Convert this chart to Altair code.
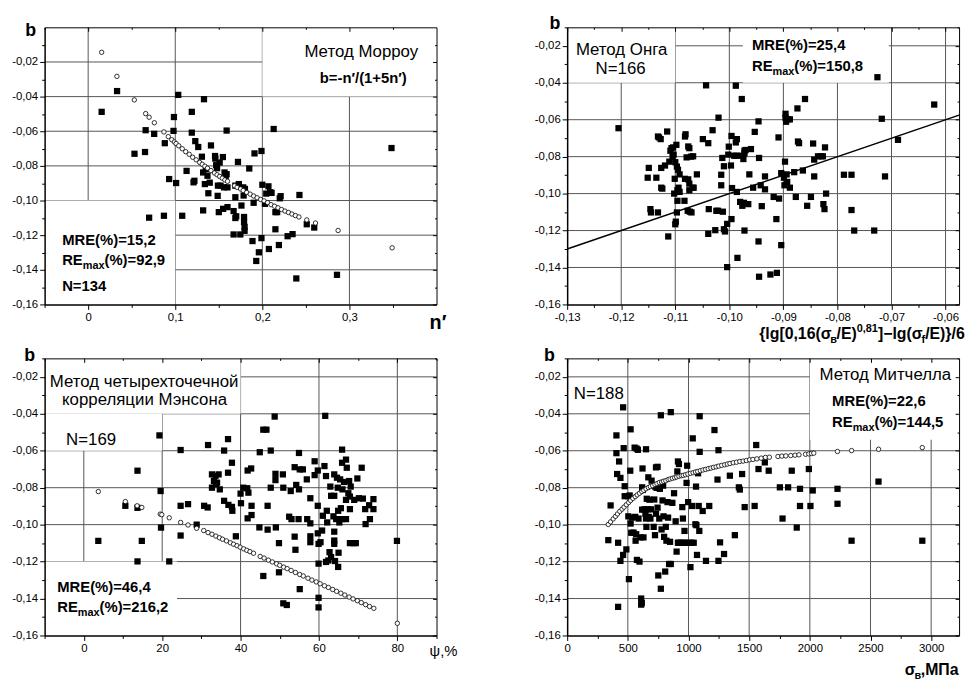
import altair as alt
import pandas as pd

FONT = "Liberation Sans"
W, H = 396, 280
GRID = "#555555"

# ---------------- Panel 1: Morrow ----------------
p1_sq_x = [0.0155, 0.0332, 0.0532, 0.0653, 0.066, 0.0758, 0.070, 0.087, 0.088, 0.093,
           0.098, 0.0985, 0.101, 0.1034, 0.108, 0.113, 0.119, 0.119, 0.121, 0.122,
           0.123, 0.1264, 0.1306, 0.132, 0.132, 0.133, 0.134, 0.135, 0.137, 0.138,
           0.1396, 0.141, 0.1457, 0.146, 0.147, 0.148, 0.1487, 0.149, 0.150, 0.151,
           0.152, 0.1547, 0.155, 0.156, 0.1566, 0.158, 0.159, 0.159, 0.160, 0.160,
           0.167, 0.167, 0.169, 0.169, 0.169, 0.170, 0.172, 0.173, 0.1747, 0.176,
           0.178, 0.1785, 0.179, 0.179, 0.1796, 0.1796, 0.180, 0.185, 0.1887, 0.190,
           0.191, 0.193, 0.196, 0.199, 0.199, 0.200, 0.203, 0.2045, 0.207, 0.2075,
           0.209, 0.2106, 0.213, 0.215, 0.215, 0.217, 0.219, 0.220, 0.221, 0.229,
           0.2347, 0.239, 0.2426, 0.251, 0.2596, 0.2857, 0.3483]
p1_sq_y = [-0.0488, -0.0368, -0.0730, -0.0720, -0.0594, -0.0615, -0.1099, -0.1088, -0.0669, -0.0876,
           -0.0598, -0.0518, -0.0899, -0.0390, -0.1088, -0.0829, -0.0488, -0.0608, -0.0895, -0.0886,
           -0.0657, -0.0691, -0.0747, -0.1057, -0.0838, -0.0415, -0.0905, -0.0819, -0.0857, -0.0958,
           -0.0897, -0.0682, -0.0743, -0.0758, -0.0796, -0.0813, -0.0973, -0.0914, -0.1067, -0.0781,
           -0.0914, -0.0749, -0.1048, -0.0924, -0.0838, -0.0857, -0.0848, -0.0596, -0.1038, -0.0924,
           -0.1061, -0.1196, -0.0914, -0.0981, -0.1101, -0.1091, -0.0777, -0.0905, -0.1196, -0.1029,
           -0.0924, -0.0971, -0.1095, -0.1124, -0.1152, -0.1175, -0.0933, -0.0815, -0.1234, -0.1013,
           -0.0728, -0.1349, -0.1299, -0.1217, -0.0714, -0.0909, -0.1019, -0.0960, -0.0918, -0.1280,
           -0.0952, -0.0956, -0.0587, -0.1067, -0.1166, -0.1067, -0.1257, -0.0987, -0.0975, -0.1206,
           -0.1194, -0.1450, -0.0968, -0.1137, -0.1156, -0.1429, -0.0697]
p1_ci_x = [0.0155, 0.033, 0.053, 0.066, 0.070, 0.076, 0.087, 0.092, 0.096, 0.099,
           0.101, 0.104, 0.108, 0.112, 0.116, 0.120, 0.124, 0.128, 0.131, 0.134,
           0.137, 0.141, 0.145, 0.148, 0.151, 0.154, 0.157, 0.160, 0.168, 0.171,
           0.175, 0.178, 0.182, 0.186, 0.190, 0.194, 0.198, 0.202, 0.206, 0.210,
           0.214, 0.218, 0.222, 0.226, 0.230, 0.234, 0.238, 0.242, 0.251, 0.261,
           0.287, 0.349]
p1_ci_y = [-0.0144, -0.0283, -0.0419, -0.0498, -0.0519, -0.0551, -0.0604, -0.0631, -0.0649, -0.0662,
           -0.0671, -0.0684, -0.0701, -0.0718, -0.0733, -0.0750, -0.0765, -0.0780, -0.0791, -0.0802,
           -0.0813, -0.0827, -0.0841, -0.0851, -0.0861, -0.0871, -0.0881, -0.0889, -0.0915, -0.0924,
           -0.0933, -0.0942, -0.0953, -0.0963, -0.0974, -0.0984, -0.0994, -0.1002, -0.1012, -0.1024,
           -0.1033, -0.1042, -0.1052, -0.1061, -0.1069, -0.1078, -0.1087, -0.1095, -0.1112, -0.1130,
           -0.1173, -0.1273]

# ---------------- Panel 2: Ong ----------------
p2_sq_x = [-0.1205, -0.1149, -0.1151, -0.1146, -0.1145, -0.1135, -0.1132, -0.1132, -0.1130, -0.1127,
           -0.1126, -0.1126, -0.1124, -0.1119, -0.1115, -0.1113, -0.1111, -0.1109, -0.1107, -0.1105,
           -0.1104, -0.1103, -0.1102, -0.1101, -0.1100, -0.1100, -0.1099, -0.1098, -0.1097, -0.1097,
           -0.1096, -0.1096, -0.1095, -0.1094, -0.1092, -0.1092, -0.1083, -0.1082, -0.1082, -0.1081,
           -0.1079, -0.1077, -0.1076, -0.1076, -0.1074, -0.1074, -0.1074, -0.1073, -0.1071, -0.1070,
           -0.1068, -0.1067, -0.1066, -0.1060, -0.1049, -0.1043, -0.1039, -0.1038, -0.1039, -0.1031,
           -0.1026, -0.1024, -0.1020, -0.1021, -0.1015, -0.1015, -0.1013, -0.1012, -0.1010, -0.1010,
           -0.1008, -0.1004, -0.1004, -0.1002, -0.1001, -0.0997, -0.0996, -0.0996, -0.0995, -0.0991,
           -0.0988, -0.0988, -0.0987, -0.0986, -0.0986, -0.0985, -0.0980, -0.0978, -0.0977, -0.0976,
           -0.0974, -0.0973, -0.0972, -0.0972, -0.0972, -0.0970, -0.0965, -0.0963, -0.0960, -0.0956,
           -0.0953, -0.0946, -0.0946, -0.0945, -0.0945, -0.0942, -0.0940, -0.0934, -0.0934, -0.0924,
           -0.0918, -0.0913, -0.0912, -0.0909, -0.0908, -0.0904, -0.0904, -0.0899, -0.0898, -0.0897,
           -0.0896, -0.0896, -0.0895, -0.0894, -0.0893, -0.0891, -0.0888, -0.0888, -0.0880, -0.0877,
           -0.0874, -0.0873, -0.0871, -0.0864, -0.0860, -0.0856, -0.0849, -0.0845, -0.0843, -0.0843,
           -0.0836, -0.0830, -0.0827, -0.0826, -0.0824, -0.0823, -0.0821, -0.0788, -0.0774, -0.0774,
           -0.0769, -0.0732, -0.0726, -0.0718, -0.0712, -0.0688, -0.0621]
p2_sq_y = [-0.0646, -0.0861, -0.0914, -0.1084, -0.1102, -0.0914, -0.1102, -0.0691, -0.0696, -0.0705,
           -0.0861, -0.0968, -0.0973, -0.0848, -0.0664, -0.1232, -0.0827, -0.0768, -0.0754, -0.0800,
           -0.0750, -0.0789, -0.1000, -0.0920, -0.0830, -0.1166, -0.1152, -0.0736, -0.0854, -0.1102,
           -0.1039, -0.0982, -0.0871, -0.0968, -0.0896, -0.0991, -0.1039, -0.0691, -0.0920, -0.0679,
           -0.0804, -0.1093, -0.0745, -0.0923, -0.0754, -0.0946, -0.0982, -0.1098, -0.0800, -0.1102,
           -0.0968, -0.0798, -0.0968, -0.0896, -0.0705, -0.0414, -0.0727, -0.1084, -0.1218, -0.0657,
           -0.1198, -0.1093, -0.0589, -0.1093, -0.0898, -0.0955, -0.0807, -0.1098, -0.0852, -0.1193,
           -0.1205, -0.1164, -0.1398, -0.0789, -0.0746, -0.0848, -0.0688, -0.1138, -0.0970, -0.0795,
           -0.0416, -0.0723, -0.0795, -0.0705, -0.0991, -0.1348, -0.1045, -0.0795, -0.0488, -0.1066,
           -0.0813, -0.1050, -0.1200, -0.0768, -0.0782, -0.0764, -0.1057, -0.0896, -0.0759, -0.0968,
           -0.0666, -0.0609, -0.1259, -0.0807, -0.1450, -0.0955, -0.1068, -0.0907, -0.0977, -0.1438,
           -0.1018, -0.1138, -0.1429, -0.0696, -0.1027, -0.1279, -0.0889, -0.0914, -0.0955, -0.0827,
           -0.0568, -0.0589, -0.0611, -0.0896, -0.0937, -0.0598, -0.0598, -0.0968, -0.0884, -0.1018,
           -0.0539, -0.0718, -0.0727, -0.0875, -0.0488, -0.1066, -0.1018, -0.0729, -0.0907, -0.0816,
           -0.0798, -0.0798, -0.0798, -0.1057, -0.1084, -0.0750, -0.1000, -0.0898, -0.0898, -0.1089,
           -0.1200, -0.1200, -0.0370, -0.0595, -0.0907, -0.0709, -0.0518]
p2_line_x = [-0.13, -0.0575]
p2_line_y = [-0.13, -0.0575]

# ---------------- Panel 3: Manson ----------------
p3_sq_x = [3.7, 10.6, 13.7, 13.7, 13.7, 14.8, 19.3, 19.6, 19.7, 21.8,
           24.7, 24.7, 24.7, 26.6, 28.8, 30.7, 31.6, 31.7, 32.7, 32.7,
           33.2, 33.6, 33.7, 34.0, 34.4, 34.7, 35.8, 35.8, 36.8, 36.8,
           36.9, 37.8, 37.8, 37.9, 38.8, 40.0, 40.1, 40.7, 41.7, 41.8,
           41.8, 42.0, 42.7, 42.8, 42.8, 44.9, 44.8, 45.8, 45.8, 46.6,
           46.9, 46.9, 47.7, 47.7, 48.7, 48.9, 48.9, 49.0, 49.8, 49.8,
           50.8, 50.9, 50.9, 51.8, 52.4, 52.8, 53.0, 53.8, 53.8, 54.0,
           54.2, 54.8, 54.9, 54.9, 55.1, 55.1, 55.9, 56.9, 57.0, 57.8,
           57.8, 57.8, 57.8, 58.9, 58.9, 59.7, 59.7, 59.7, 59.9, 59.9,
           59.9, 59.9, 60.4, 60.8, 61.0, 61.4, 61.6, 61.8, 61.8, 62.0,
           62.1, 62.4, 62.7, 62.9, 63.1, 63.1, 63.7, 63.9, 63.9, 63.9,
           63.9, 63.9, 64.1, 64.4, 64.6, 64.8, 64.9, 64.9, 65.0, 65.2,
           65.4, 65.6, 65.9, 65.9, 65.9, 66.0, 66.4, 66.9, 66.9, 66.9,
           67.1, 67.5, 67.7, 67.9, 67.9, 67.9, 68.1, 68.8, 69.0, 69.4,
           69.8, 70.2, 70.9, 71.2, 71.8, 71.9, 72.8, 73.0, 73.9, 73.9,
           79.9]
p3_sq_y = [-0.1088, -0.0898, -0.0708, -0.0909, -0.1199, -0.1088, -0.0517, -0.0818, -0.1016, -0.1199,
           -0.0596, -0.0898, -0.1059, -0.0889, -0.1000, -0.0898, -0.0907, -0.0569, -0.0728, -0.0800,
           -0.0764, -0.0737, -0.0782, -0.0773, -0.0728, -0.0809, -0.0599, -0.0871, -0.0537, -0.0719,
           -0.0893, -0.0665, -0.0904, -0.0925, -0.1063, -0.0832, -0.0884, -0.0800, -0.0803, -0.0707,
           -0.0966, -0.0827, -0.0696, -0.0898, -0.0948, -0.0608, -0.1015, -0.1278, -0.0486, -0.0486,
           -0.0898, -0.1027, -0.0599, -0.0800, -0.0415, -0.0725, -0.0759, -0.1015, -0.1100, -0.1258,
           -0.0728, -0.0800, -0.1426, -0.1435, -0.0957, -0.0818, -0.0970, -0.0689, -0.1065, -0.1136,
           -0.0785, -0.0970, -0.0612, -0.0809, -0.0701, -0.1349, -0.0701, -0.0755, -0.0970, -0.0857,
           -0.0993, -0.1063, -0.1095, -0.0657, -0.0732, -0.0707, -0.0898, -0.1047, -0.1104, -0.1211,
           -0.1396, -0.1448, -0.1095, -0.1032, -0.0952, -0.0683, -0.0411, -0.0737, -0.1202, -0.0925,
           -0.0988, -0.1194, -0.1149, -0.0794, -0.0844, -0.1176, -0.0955, -0.0728, -0.0844, -0.1038,
           -0.1086, -0.1104, -0.1197, -0.0970, -0.0746, -0.0800, -0.1229, -0.0925, -0.1152, -0.0988,
           -0.0755, -0.0911, -0.0594, -0.0970, -0.0665, -0.0809, -0.0769, -0.0648, -0.0970, -0.0866,
           -0.0692, -0.0830, -0.0764, -0.0916, -0.0848, -0.1100, -0.0794, -0.1100, -0.0866, -0.1100,
           -0.0750, -0.0857, -0.0692, -0.0859, -0.0916, -0.0997, -0.0895, -0.0970, -0.0862, -0.0916,
           -0.1088]
p3_ci_x = [3.7, 10.6, 13.6, 14.8, 19.5, 19.9, 21.8, 24.7, 26.6, 28.8,
           30.6, 31.7, 32.7, 33.7, 34.6, 35.4, 36.4, 37.4, 38.2, 39.1,
           39.9, 40.8, 41.6, 42.4, 43.3, 45.0, 46.0, 47.1, 48.1, 49.2,
           50.0, 51.0, 51.9, 52.9, 54.0, 55.1, 56.0, 57.2, 58.2, 59.3,
           60.3, 61.4, 62.4, 63.5, 64.5, 65.6, 66.6, 67.7, 68.7, 69.8,
           70.8, 71.9, 72.9, 74.0, 80.0]
p3_ci_y = [-0.0821, -0.0875, -0.0898, -0.0907, -0.0943, -0.0946, -0.0963, -0.0988, -0.1002, -0.1020,
           -0.1032, -0.1043, -0.1052, -0.1062, -0.1071, -0.1079, -0.1088, -0.1098, -0.1106, -0.1114,
           -0.1122, -0.1131, -0.1139, -0.1146, -0.1155, -0.1172, -0.1181, -0.1192, -0.1202, -0.1212,
           -0.1220, -0.1230, -0.1238, -0.1248, -0.1259, -0.1270, -0.1278, -0.1290, -0.1300, -0.1310,
           -0.1320, -0.1331, -0.1340, -0.1351, -0.1361, -0.1371, -0.1381, -0.1392, -0.1402, -0.1412,
           -0.1422, -0.1433, -0.1443, -0.1453, -0.1534]

# ---------------- Panel 4: Mitchell ----------------
p4_sq_x = [339, 358, 406, 406, 412, 420, 420, 428, 439, 439,
           461, 461, 466, 474, 474, 488, 501, 504, 509, 515,
           520, 523, 523, 528, 534, 547, 556, 561, 564, 569,
           572, 575, 583, 588, 596, 604, 610, 610, 615, 618,
           618, 621, 623, 629, 637, 645, 650, 650, 653, 656,
           664, 669, 672, 678, 686, 691, 696, 713, 718, 724,
           726, 732, 732, 737, 745, 745, 751, 759, 764, 772,
           772, 778, 786, 791, 794, 799, 808, 813, 818, 827,
           832, 840, 848, 854, 854, 867, 881, 894, 902, 908,
           913, 913, 921, 921, 940, 949, 954, 962, 967, 976,
           984, 989, 997, 1003, 1016, 1024, 1030, 1035, 1043, 1057,
           1062, 1065, 1070, 1079, 1084, 1089, 1092, 1092, 1117, 1144,
           1171, 1214, 1239, 1247, 1247, 1260, 1293, 1341, 1382, 1415,
           1423, 1442, 1463, 1545, 1558, 1577, 1629, 1661, 1753, 1775,
           1821, 1851, 1892, 1919, 1919, 1992, 2005, 2024, 2228, 2228,
           2344, 2566, 2927]
p4_sq_y = [-0.1084, -0.0896, -0.0517, -0.0613, -0.0726, -0.1098, -0.1445, -0.0658, -0.0747, -0.1196,
           -0.0365, -0.1164, -0.0586, -0.0792, -0.0846, -0.1134, -0.0846, -0.0955, -0.1295, -0.0842,
           -0.0708, -0.0484, -0.0994, -0.1044, -0.0962, -0.1043, -0.0583, -0.0958, -0.1087, -0.1052,
           -0.0588, -0.1191, -0.0595, -0.0967, -0.1200, -0.1069, -0.1400, -0.1433, -0.1424, -0.0798,
           -0.0919, -0.0696, -0.0812, -0.1069, -0.0917, -0.0941, -0.0592, -0.0967, -0.1012, -0.0860,
           -0.0917, -0.0744, -0.0958, -0.0865, -0.0967, -0.0917, -0.0762, -0.1012, -0.0864, -0.1057,
           -0.0794, -0.0690, -0.0941, -0.0801, -0.0687, -0.0908, -0.1275, -0.0967, -0.0806, -0.0408,
           -0.1347, -0.1026, -0.0869, -0.0789, -0.0955, -0.1066, -0.1254, -0.1012, -0.1087, -0.0878,
           -0.0962, -0.1213, -0.1093, -0.1213, -0.0391, -0.0882, -0.0830, -0.0982, -0.1146, -0.0712,
           -0.0658, -0.1098, -0.0672, -0.1098, -0.1098, -0.0905, -0.0967, -0.1098, -0.1034, -0.1098,
           -0.0774, -0.0681, -0.0878, -0.1098, -0.1230, -0.1098, -0.0899, -0.0533, -0.1098, -0.0998,
           -0.0794, -0.1003, -0.1164, -0.0722, -0.0899, -0.1034, -0.0606, -0.0413, -0.0926, -0.1196,
           -0.0899, -0.0488, -0.0756, -0.0597, -0.1196, -0.1096, -0.1159, -0.0735, -0.1057, -0.0798,
           -0.0810, -0.0726, -0.0905, -0.0899, -0.0569, -0.0699, -0.0663, -0.0708, -0.0798, -0.0967,
           -0.0798, -0.0708, -0.1016, -0.0806, -0.0899, -0.0699, -0.0899, -0.0815, -0.0806, -0.0887,
           -0.1087, -0.0767, -0.1087]
p4_ci_x = [338.8, 357.7, 379.4, 398.4, 414.6, 433.6, 452.6, 468.8, 487.8, 506.8,
           523.0, 542.0, 561.0, 577.2, 596.2, 615.2, 631.4, 650.4, 669.4, 685.6,
           704.6, 723.6, 739.8, 758.8, 777.8, 794.0, 813.0, 832.0, 848.2, 867.2,
           886.2, 902.4, 921.4, 940.4, 956.6, 975.6, 994.6, 1016.3, 1037.9, 1056.9,
           1075.9, 1097.6, 1119.2, 1140.9, 1162.6, 1184.3, 1205.9, 1227.6, 1249.3, 1273.7,
           1298.1, 1319.8, 1341.5, 1368.6, 1395.6, 1422.7, 1449.8, 1476.9, 1504.0, 1531.1,
           1563.7, 1598.9, 1634.1, 1666.7, 1737.1, 1769.6, 1802.2, 1842.8, 1878.0, 1910.6,
           1964.8, 1991.9, 2013.5, 2032.5, 2227.6, 2344.2, 2566.4, 2926.8]
p4_ci_y = [-0.0999, -0.0985, -0.0969, -0.0955, -0.0942, -0.0928, -0.0916, -0.0905, -0.0892, -0.0880,
           -0.0869, -0.0858, -0.0848, -0.0839, -0.0830, -0.0821, -0.0814, -0.0806, -0.0799, -0.0794,
           -0.0789, -0.0783, -0.0778, -0.0772, -0.0769, -0.0765, -0.0762, -0.0756, -0.0753, -0.0749,
           -0.0746, -0.0742, -0.0738, -0.0735, -0.0733, -0.0730, -0.0726, -0.0722, -0.0719, -0.0715,
           -0.0712, -0.0708, -0.0704, -0.0701, -0.0697, -0.0694, -0.0690, -0.0687, -0.0683, -0.0679,
           -0.0676, -0.0672, -0.0669, -0.0665, -0.0662, -0.0658, -0.0656, -0.0653, -0.0649, -0.0647,
           -0.0644, -0.0640, -0.0636, -0.0635, -0.0631, -0.0629, -0.0628, -0.0626, -0.0624, -0.0622,
           -0.0619, -0.0617, -0.0615, -0.0613, -0.0604, -0.0599, -0.0592, -0.0583]

# ---------------- ticks / grid ----------------
y_major = [-0.16, -0.14, -0.12, -0.1, -0.08, -0.06, -0.04, -0.02]
y_minor = [-0.15, -0.13, -0.11, -0.09, -0.07, -0.05, -0.03, -0.01]
y_grid = [-0.14, -0.12, -0.1, -0.08, -0.06, -0.04, -0.02]

p1_x_major = [0.0, 0.1, 0.2, 0.3]
p1_x_minor = [-0.05, 0.05, 0.15, 0.25, 0.35]
p1_x_grid = [0.0, 0.1, 0.2, 0.3]
p2_x_major = [-0.13, -0.12, -0.11, -0.1, -0.09, -0.08, -0.07, -0.06]
p2_x_minor = [-0.125, -0.115, -0.105, -0.095, -0.085, -0.075, -0.065]
p2_x_grid = [-0.12, -0.11, -0.1, -0.09, -0.08, -0.07, -0.06]
p3_x_major = [0, 20, 40, 60, 80]
p3_x_minor = [-10, 10, 30, 50, 70, 90]
p3_x_grid = [0, 20, 40, 60, 80]
p4_x_major = [0, 500, 1000, 1500, 2000, 2500, 3000]
p4_x_minor = [250, 750, 1250, 1750, 2250, 2750]
p4_x_grid = [500, 1000, 1500, 2000, 2500, 3000]

# white text-box backgrounds (x0, x1, y0, y1) in data units
p1_boxes = [(0.2, 0.4, 0.0, -0.04), (-0.05, 0.1, -0.1, -0.16)]
p2_boxes = [(-0.13, -0.11, -0.01, -0.04), (-0.0975, -0.0705, -0.01, -0.04)]
p3_boxes = [(-10, 40, -0.01, -0.04), (-10, 20, -0.04, -0.06), (-10, 23.8, -0.12, -0.16)]
p4_boxes = [(2000, 3230, -0.01, -0.054)]


def in_list(vals):
    return "(" + " || ".join("abs(datum.value - (%r)) < 1e-9" % v for v in vals) + ")"


def axis(orient, values, majors, lab=None):
    test = in_list(majors)
    common = dict(orient=orient, values=values, title=None, grid=False, zindex=1,
                  tickColor="black", tickWidth=1, domainColor="black")
    if orient in ("bottom", "left"):
        return alt.Axis(**common, domainWidth=1.5,
                        tickSize={"condition": {"test": test, "value": 5}, "value": 3},
                        labelExpr=test + " ? (" + lab + ") : ''",
                        labelFont=FONT, labelFontSize=11.5, labelColor="black",
                        labelPadding=2, labelFlush=False, labelOverlap=False)
    return alt.Axis(**common, domainWidth=1, labels=False,
                    tickSize={"condition": {"test": test, "expr": "-4"}, "expr": "-2"})


def t(s, x, y, size=17, bold=False, align="left"):
    return alt.Chart(alt.Data(values=[{}])).mark_text(
        text=s, font=FONT, fontSize=size, fontWeight="bold" if bold else "normal",
        align=align, baseline="alphabetic", color="black").encode(
        x=alt.value(x), y=alt.value(y))


def remax(x, y, rest):
    return [t("RE", x, y, 15, True), t("max", x + 20.8, y + 4, 11, True),
            t(rest, x + 42.8, y, 15, True)]


Y_LAB = "'-' + replace(format(abs(datum.value), '.2f'), '.', ',')"


def panel(sqx, sqy, cix, ciy, lx, ly, xdom, ydom, xmaj, xmin, xgrid, boxes, xlab, texts):
    sx = alt.Scale(domain=xdom, nice=False, zero=False)
    sy = alt.Scale(domain=ydom, nice=False, zero=False)
    xvals = sorted(xmaj + xmin)
    yvals = sorted(y_major + y_minor)
    layers = []
    layers.append(alt.Chart(pd.DataFrame({"v": xgrid})).mark_rule(color=GRID, strokeWidth=1).encode(
        x=alt.X("v:Q", scale=sx, axis=axis("top", xvals, xmaj))))
    layers.append(alt.Chart(pd.DataFrame({"v": y_grid})).mark_rule(color=GRID, strokeWidth=1).encode(
        y=alt.Y("v:Q", scale=sy, axis=axis("right", yvals, y_major))))
    bdf = pd.DataFrame(boxes, columns=["x0", "x1", "y0", "y1"])
    layers.append(alt.Chart(bdf).mark_rect(color="white", opacity=1).encode(
        x=alt.X("x0:Q", scale=sx, axis=None), x2="x1:Q",
        y=alt.Y("y0:Q", scale=sy, axis=None), y2="y1:Q"))
    if lx:
        layers.append(alt.Chart(pd.DataFrame({"x": lx, "y": ly})).mark_line(
            color="black", strokeWidth=1.5).encode(
            x=alt.X("x:Q", scale=sx, axis=None), y=alt.Y("y:Q", scale=sy, axis=None)))
    n = min(len(sqx), len(sqy))
    layers.append(alt.Chart(pd.DataFrame({"x": sqx[:n], "y": sqy[:n]})).mark_point(
        shape="square", filled=True, color="black", size=40, opacity=1).encode(
        x=alt.X("x:Q", scale=sx, axis=axis("bottom", xvals, xmaj, xlab)),
        y=alt.Y("y:Q", scale=sy, axis=axis("left", yvals, y_major, Y_LAB))))
    if cix:
        m = min(len(cix), len(ciy))
        layers.append(alt.Chart(pd.DataFrame({"x": cix[:m], "y": ciy[:m]})).mark_point(
            shape="circle", filled=True, fill="white", stroke="black", strokeWidth=0.8,
            size=20, opacity=1).encode(
            x=alt.X("x:Q", scale=sx, axis=None), y=alt.Y("y:Q", scale=sy, axis=None)))
    layers.extend(texts)
    return alt.layer(*layers).resolve_axis(x="independent", y="independent").properties(
        width=W, height=H)


p1_texts = [t("b", -14, 9, 18, True, "center"),
            t("Метод Морроу", 320, 30, 17, False, "center"),
            t("b=-n′/(1+5n′)", 322, 56, 15, True, "center"),
            t("MRE(%)=15,2", 17.7, 220.3, 15, True),
            *remax(17.7, 240.3, "(%)=92,9"),
            t("N=134", 17.7, 266.3, 15, True),
            t("n′", 389, 305, 20, True)]

p2_texts = [t("b", -12.3, 1.7, 18, True, "center"),
            t("Метод Онга", 55, 28.4, 17, False, "center"),
            t("N=166", 54, 47.4, 17, False, "center"),
            t("MRE(%)=25,4", 186.7, 23.4, 15, True),
            *remax(186.7, 44, "(%)=150,8"),
            t("{lg[0,16(σ", 194, 314.7, 16, True),
            t("в", 265.8, 318.7, 11, True),
            t("/E)", 272.2, 314.7, 16, True),
            t("0,81", 292.6, 307.7, 11, True),
            t("]−lg(σ", 314.0, 314.7, 16, True),
            t("f", 358.0, 318.7, 11, True),
            t("/E)}/6", 361.7, 314.7, 16, True)]

p3_texts = [t("b", -15, 2.3, 18, True, "center"),
            t("Метод четырехточечной", 100.5, 29, 17, False, "center"),
            t("корреляции Мэнсона", 101, 47.3, 17, False, "center"),
            t("N=169", 21.7, 87.3, 17),
            t("MRE(%)=46,4", 12.7, 235.6, 15, True),
            *remax(12.7, 256.3, "(%)=216,2"),
            t("ψ,%", 389, 300.6, 15)]

p4_texts = [t("b", -18, 3, 18, True, "center"),
            t("N=188", 6.7, 40.7, 17),
            t("Метод Митчелла", 321.5, 21.7, 17, False, "center"),
            t("MRE(%)=22,6", 267.7, 48, 15, True),
            *remax(267.7, 69.4, "(%)=144,5"),
            t("σ", 341, 319.5, 16, True),
            t("в", 350.9, 323.5, 11, True),
            t(",МПа", 357.3, 319.5, 16, True)]

p1 = panel(p1_sq_x, p1_sq_y, p1_ci_x, p1_ci_y, None, None, [-0.05, 0.4], [-0.16, 0.0],
           p1_x_major, p1_x_minor, p1_x_grid, p1_boxes,
           "datum.value == 0 ? '0' : replace(format(datum.value, '.1f'), '.', ',')", p1_texts)
p2 = panel(p2_sq_x, p2_sq_y, None, None, p2_line_x, p2_line_y, [-0.13, -0.0575], [-0.16, -0.01],
           p2_x_major, p2_x_minor, p2_x_grid, p2_boxes,
           "'-' + replace(format(abs(datum.value), '.2f'), '.', ',')", p2_texts)
p3 = panel(p3_sq_x, p3_sq_y, p3_ci_x, p3_ci_y, None, None, [-10, 90], [-0.16, -0.01],
           p3_x_major, p3_x_minor, p3_x_grid, p3_boxes,
           "format(datum.value, 'd')", p3_texts)
p4 = panel(p4_sq_x, p4_sq_y, p4_ci_x, p4_ci_y, None, None, [0, 3230], [-0.16, -0.01],
           p4_x_major, p4_x_minor, p4_x_grid, p4_boxes,
           "format(datum.value, 'd')", p4_texts)

chart = alt.concat(p1, p2, p3, p4, columns=2, spacing={"row": 54.5, "column": 132},
                   bounds="flush").properties(
    padding={"left": 3, "top": 3, "right": 0, "bottom": 0}
).configure(background="white").configure_view(stroke="transparent")

chart.save("out.html", embed_options={"renderer": "svg", "actions": False})
